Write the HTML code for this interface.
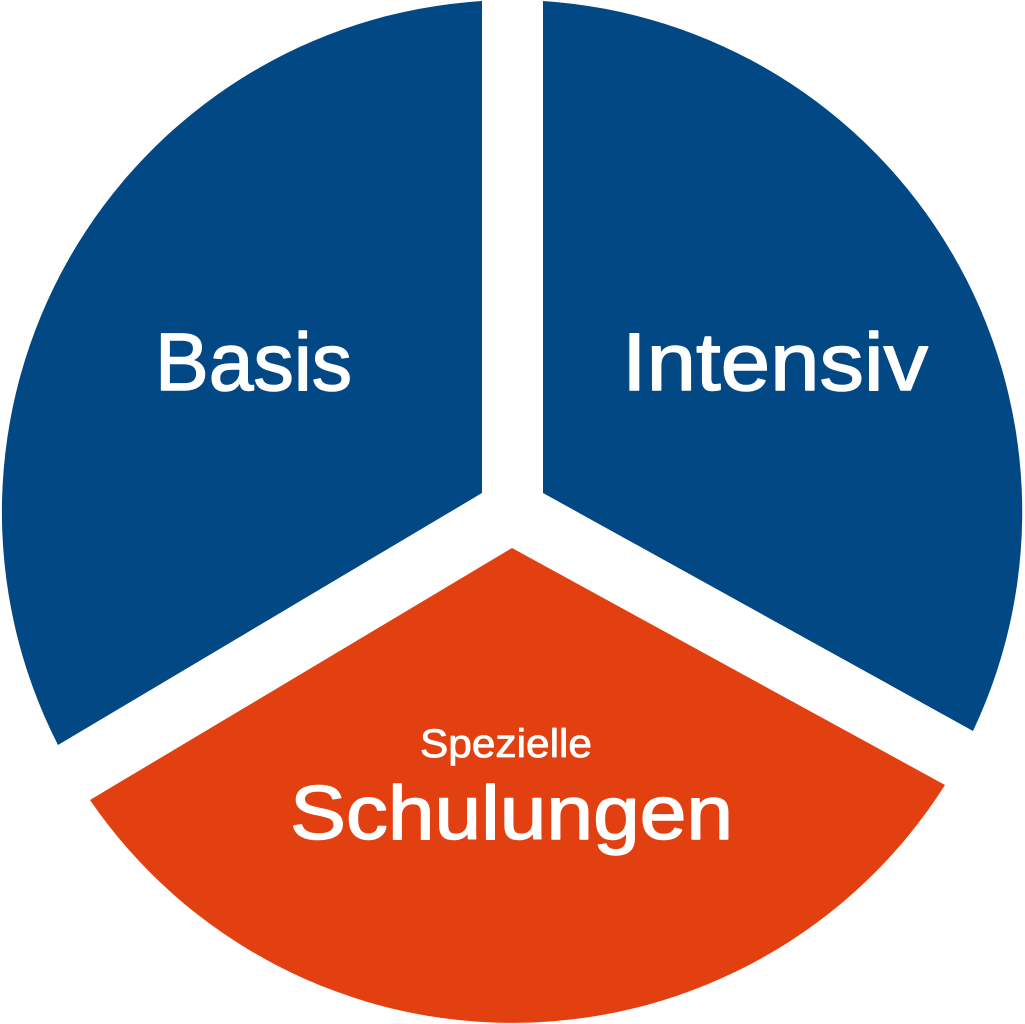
<!DOCTYPE html>
<html><head><meta charset="utf-8"><style>html,body{margin:0;padding:0;background:#fff;}svg{display:block}</style></head>
<body>
<svg width="1025" height="1024" viewBox="0 0 1025 1024" xmlns="http://www.w3.org/2000/svg">
<path d="M482,1 L482,493 L58,745 A512,512 0 0 1 482,1 Z" fill="#024884"/>
<path d="M543,1 L543,493 L973,731 A512,512 0 0 0 543,1 Z" fill="#024884"/>
<path d="M512,548 L945,785 A512,512 0 0 1 90,800 Z" fill="#e34011"/>
<g font-family="Liberation Sans, sans-serif" fill="#fff" stroke="#fff" stroke-width="1.5" stroke-linejoin="round">
<text x="155" y="390" font-size="82" textLength="197" lengthAdjust="spacingAndGlyphs">Basis</text>
<text x="622" y="390" font-size="82" textLength="306" lengthAdjust="spacingAndGlyphs">Intensiv</text>
<text x="420" y="757" font-size="40" textLength="172" lengthAdjust="spacingAndGlyphs" stroke-width="0.8">Spezielle</text>
<text x="290" y="839" font-size="76" textLength="443" lengthAdjust="spacingAndGlyphs">Schulungen</text>
</g>
</svg>
</body></html>
